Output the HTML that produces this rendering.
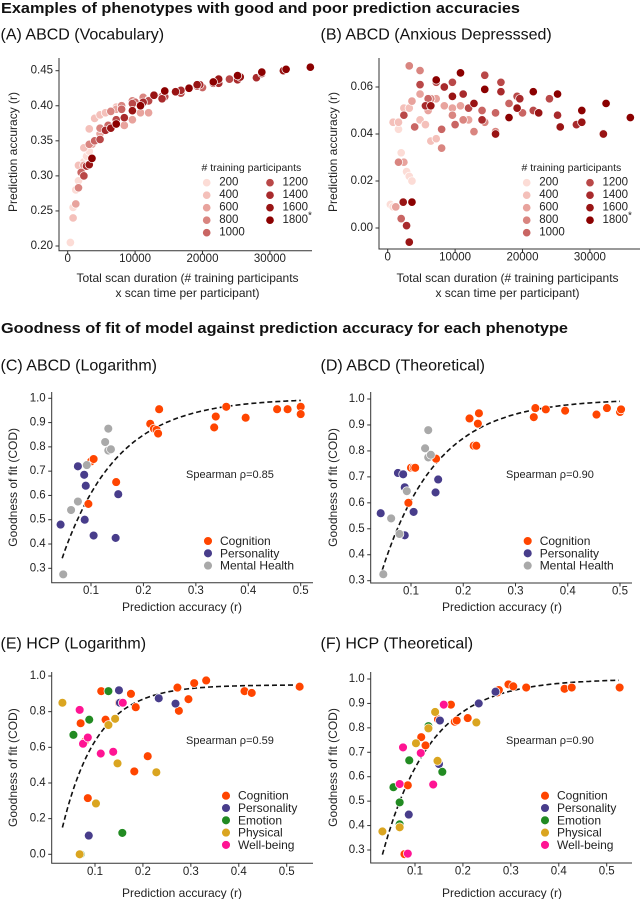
<!DOCTYPE html>
<html><head><meta charset="utf-8"><style>
html,body{margin:0;padding:0;background:#fff}
svg{display:block;font-family:"Liberation Sans",Arial,sans-serif}
</style></head><body>
<svg id="fig" width="641" height="899" viewBox="0 0 641 899" xmlns="http://www.w3.org/2000/svg"></svg>
<script>
// ---------- Panel A / B data: [total scan duration (thousands), accuracy] per training size ----------
const sizes = [200,400,600,800,1000,1200,1400,1600,1800];
const sizeColors = ['#fcdcd6','#f4c0ba','#e8a39d','#d98580','#c96563','#b94848','#a82a2c','#991414','#8b0000'];
const vocab200=[[0.4,.205],[0.8,.255],[1.2,.28],[1.6,.293],[2,.31],[2.4,.32],[2.8,.328],[3.2,.335]];
const vocab400=[[0.8,.24],[1.6,.315],[2.4,.34],[3.2,.367],[4,.382],[4.8,.387],[5.6,.39],[6.4,.392],[7.2,.398]];
const vocab600=[[1.2,.26],[2.4,.315],[3.6,.345],[4.8,.36],[6,.37],[7.2,.395],[8.4,.372],[9.6,.38],[10.8,.39],[12,.39]];
const vocab800=[[1.6,.283],[3.2,.345],[4.8,.368],[6.4,.392],[8,.40],[9.6,.407],[11.2,.412],[12.8,.415],[14.4,.412]];
const vocab1000=[[2,.305],[4,.35],[6,.372],[8,.395],[10,.405],[12,.408],[14,.413],[16,.42],[18,.425],[20,.426]];
const vocab1200=[[2.4,.30],[4.8,.352],[7.2,.38],[9.6,.403],[12,.407],[14.4,.413],[16.8,.418],[19.2,.428],[21.6,.432],[24,.438]];
const vocab1400=[[2.8,.314],[5.6,.365],[8.4,.383],[11.2,.405],[14,.41],[16.8,.422],[19.6,.43],[22.4,.432],[25.2,.437],[28,.44]];
const vocab1600=[[3.2,.316],[6.4,.368],[9.6,.393],[12.8,.415],[16,.42],[19.2,.43],[22.4,.438],[25.6,.441],[28.8,.446],[32,.45]];
const vocab1800=[[3.6,.325],[7.2,.374],[10.8,.40],[14.4,.421],[18,.425],[21.6,.434],[25.2,.443],[28.8,.448],[32.4,.452],[36,.455]];
const anx200=[[0.4,.010],[0.8,.009],[1.2,.045],[1.6,.042],[2,.032],[2.4,.028],[2.8,.024],[3.2,.022],[3.6,.020]];
const anx400=[[0.8,.045],[1.6,.045],[2.4,.051],[3.2,.051],[4,.043],[4.8,.046],[5.6,.044],[6.4,.037],[7.2,.038]];
const anx600=[[1.2,.009],[2.4,.028],[3.6,.054],[4.8,.057],[6,.05],[7.2,.055],[8.4,.052],[9.6,.051],[10.8,.052],[12,.046]];
const anx800=[[1.6,.028],[3.2,.069],[4.8,.067],[6.4,.055],[8,.034],[9.6,.048],[11.2,.046],[12.8,.041],[14.4,.045],[16,.041]];
const anx1000=[[2,.004],[4,.043],[6,.055],[8,.042],[10,.044],[12,.051],[14,.05],[16,.049],[18,.053],[20,.049]];
const anx1200=[[2.4,.048],[4.8,.061],[7.2,.062],[9.6,.062],[12,.051],[14.4,.065],[16.8,.062],[19.2,.056],[21.6,.05],[24,.055]];
const anx1400=[[2.8,.001],[5.6,.052],[8.4,.06],[11.2,.057],[14,.046],[16.8,.058],[19.6,.055],[22.4,.049],[25.2,.048],[28,.044]];
const anx1600=[[2.3,.011],[3.2,-.006],[6.4,.052],[9.6,.056],[12.8,.053],[16,.04],[19.2,.051],[22.4,.049],[25.6,.043],[28.8,.045],[32,.04]];
const anx1800=[[3.6,.011],[7.2,.063],[10.8,.066],[14.4,.059],[18,.047],[21.6,.058],[25.2,.057],[28.8,.05],[32.4,.053],[36,.047]];
const vocabSeries=[vocab200,vocab400,vocab600,vocab800,vocab1000,vocab1200,vocab1400,vocab1600,vocab1800];
const anxSeries=[anx200,anx400,anx600,anx800,anx1000,anx1200,anx1400,anx1600,anx1800];
const durTicks=[0,10000,20000,30000];
const vocabTicks=[0.20,0.25,0.30,0.35,0.40,0.45];
const anxTicks=[0.00,0.02,0.04,0.06];

// ---------- Panel C-F data: [prediction accuracy r, COD] ----------
const catNames3=['Cognition','Personality','Mental Health'];
const catNames5=['Cognition','Personality','Emotion','Physical','Well-being'];
const catColors={'Cognition':'#ff4500','Personality':'#483d8b','Mental Health':'#a9a9a9','Emotion':'#228b22','Physical':'#daa520','Well-being':'#ff1493'};
const cCog=[[.1,.74],[.105,.75],[.095,.565],[.148,.655],[.213,.895],[.22,.875],[.225,.87],[.228,.855],[.23,.955],[.335,.88],[.338,.925],[.358,.965],[.395,.92],[.455,.955],[.475,.955],[.5,.965],[.5,.935]];
const cPers=[[.042,.48],[.075,.72],[.087,.685],[.09,.64],[.088,.5],[.105,.435],[.147,.425],[.152,.605]];
const cMH=[[.047,.275],[.062,.54],[.075,.575],[.092,.725],[.127,.82],[.133,.875],[.133,.785],[.138,.79]];
const dCog=[[.095,.6],[.1,.735],[.105,.735],[.108,.735],[.148,.77],[.212,.925],[.22,.82],[.225,.82],[.228,.905],[.23,.945],[.335,.93],[.338,.965],[.358,.96],[.395,.955],[.455,.94],[.475,.965],[.5,.95],[.502,.96]];
const dPers=[[.042,.56],[.075,.715],[.085,.71],[.088,.66],[.088,.475],[.105,.565],[.147,.64],[.152,.69]];
const dMH=[[.047,.325],[.062,.54],[.078,.48],[.092,.645],[.127,.81],[.133,.88],[.133,.775],[.138,.785]];
const eCog=[[.07,.735],[.085,.315],[.078,.63],[.113,.915],[.122,.755],[.15,.85],[.175,.9],[.182,.465],[.185,.825],[.21,.55],[.272,.935],[.275,.805],[.295,.87],[.307,.96],[.332,.975],[.412,.915],[.427,.905],[.527,.94]];
const ePers=[[.087,.105],[.15,.92],[.152,.85],[.233,.875],[.268,.845]];
const eEmo=[[.055,.67],[.088,.755],[.128,.915],[.157,.12],[.07,.0]];
const ePhys=[[.032,.85],[.068,.0],[.102,.285],[.128,.725],[.142,.76],[.147,.51],[.228,.46]];
const eWell=[[.068,.81],[.075,.62],[.085,.655],[.112,.565],[.138,.575],[.158,.85]];
const fCog=[[.078,.283],[.085,.565],[.113,.762],[.122,.728],[.148,.835],[.175,.895],[.183,.825],[.187,.83],[.21,.84],[.272,.945],[.275,.955],[.295,.978],[.305,.97],[.332,.965],[.412,.96],[.427,.965],[.527,.965]];
const fPers=[[.087,.445],[.152,.83],[.15,.652],[.233,.9],[.268,.948]];
const fEmo=[[.055,.557],[.068,.495],[.068,.405],[.088,.667],[.128,.807],[.157,.62]];
const fPhys=[[.032,.376],[.068,.393],[.102,.737],[.128,.798],[.142,.865],[.147,.665],[.228,.822]];
const fWell=[[.068,.57],[.075,.72],[.085,.285],[.112,.697],[.138,.568],[.16,.895]];
const rTicks=[0.1,0.2,0.3,0.4,0.5];
const codTicks=[0.3,0.4,0.5,0.6,0.7,0.8,0.9,1.0];
const codTicksE=[0.0,0.2,0.4,0.6,0.8,1.0];
const spearman=['0.85','0.90','0.59','0.90'];

const NS='http://www.w3.org/2000/svg';
const svg=document.getElementById('fig');
function mk(tag,attrs,parent){const e=document.createElementNS(NS,tag);for(const k in attrs)e.setAttribute(k,attrs[k]);(parent||svg).appendChild(e);return e;}
function lin(v1,p1,v2,p2){return v=>p1+(v-v1)*(p2-p1)/(v2-v1);}
function txt(s,x,y,size,opt,parent){const t=mk('text',Object.assign({x:x,y:y,'font-size':size,fill:'#222','dominant-baseline':'central'},opt||{}),parent);t.textContent=s;return t;}

function axes(g,P,xt,yt,xfmt,yfmt){
  const ax=mk('path',{d:`M${P.left},${P.top}V${P.bottom}H${P.right}`,stroke:'#333',fill:'none','stroke-width':1},g);
  
  
  xt.forEach(v=>{const x=P.xs(v);
    const tk=mk('line',{x1:x,x2:x,y1:P.bottom,y2:P.bottom+3.5,stroke:'#333'},g);
    
    
    const l=txt(xfmt(v),x,P.bottom+8.5,11.5,{'text-anchor':'middle'},g);
    
    });
  yt.forEach(v=>{const y=P.ys(v);
    const tk=mk('line',{x1:P.left-3.5,x2:P.left,y1:y,y2:y,stroke:'#333'},g);
    
    
    const l=txt(yfmt(v),P.left-6,y,11.5,{'text-anchor':'end'},g);
    
    });
}
function dot(g,x,y,c,r){const d=mk('circle',{cx:x,cy:y,r:r||4.3,fill:c,stroke:'#fff','stroke-width':0.7},g);return d;}

// titles
let t=txt('Examples of phenotypes with good and poor prediction accuracies',1,9,14.5,{'font-weight':'bold',fill:'#111',textLength:519,lengthAdjust:'spacingAndGlyphs'});


t=txt('Goodness of fit of model against prediction accuracy for each phenotype',1,329,14.5,{'font-weight':'bold',fill:'#111',textLength:567,lengthAdjust:'spacingAndGlyphs'});



// ---------- scan duration panels ----------
function durPanel(name,ox,title,series,ys,yt,yfmt,bottom,right){
  const g=mk('g',{});
  
  
  const P={left:ox+59,top:58,bottom:bottom,right:right,xs:lin(0,ox+67.7,30000,ox+269.9),ys:ys};
  const tt=txt(title,ox+0.5,35,16,{fill:'#111'},g);
  
  
  axes(g,P,durTicks,yt,v=>String(v),yfmt);
  series.forEach((s,i)=>s.forEach(p=>{const d=dot(g,P.xs(p[0]*1000),P.ys(p[1]),sizeColors[i],4.2);
    
    }));
  let l=txt('Total scan duration (# training participants',ox+187.5,278,12,{'text-anchor':'middle'},g);
  
  
  l=txt('x scan time per participant)',ox+187.5,293,12,{'text-anchor':'middle'},g);
  
  
  l=txt('Prediction accuracy (r)',0,0,12,{'text-anchor':'middle',transform:`translate(${ox+13},152) rotate(-90)`},g);
  
  
  const lg=mk('g',{},g);
  
  
  l=txt('# training participants',ox+201.5,168,10.5,{},lg);
  
  
  sizes.forEach((s,i)=>{const col=i<5?0:1,row=i<5?i:i-5;
    const x=ox+(col?270:206.7),y=182.7+row*12.5;
    const d=dot(lg,x,y,sizeColors[i],4.2);
    
    
    const e=txt(String(s),x+12.5,y,11.5,{},lg);
    
    
    if(s===1800){const a=txt('*',x+38,y-4,10,{},lg);}
  });
}
durPanel('panel-a-vocabulary',0,'(A) ABCD (Vocabulary)',vocabSeries,lin(0.45,70.7,0.20,246),vocabTicks,v=>v.toFixed(2),250.7,312);
durPanel('panel-b-anxious-depressed',320,'(B) ABCD (Anxious Depresssed)',anxSeries,lin(0.06,87,0,228),anxTicks,v=>v.toFixed(2),249,640);

// ---------- goodness-of-fit panels ----------
function fitPanel(name,ox,oy,title,P,yt,cats,data,curve,rho,legX,legY,legStep,titleY,xlabY){
  const g=mk('g',{});
  
  
  const tt=txt(title,ox+0.5,titleY,16,{fill:'#111'},g);
  
  
  axes(g,P,rTicks,yt,v=>v.toFixed(1),v=>v.toFixed(1));
  let d='';for(let i=0;i<=80;i++){const r=curve.x0+(curve.x1-curve.x0)*i/80;const v=curve.f(r);d+=(i?'L':'M')+P.xs(r).toFixed(1)+','+P.ys(v).toFixed(1);}
  const c=mk('path',{d:d,fill:'none',stroke:'#111','stroke-width':1.6,'stroke-dasharray':'5,3'},g);
  
  
  cats.forEach((cat,i)=>data[i].forEach(p=>{const m=dot(g,P.xs(p[0]),P.ys(p[1]),catColors[cat],4.4);
    
    }));
  let l=txt('Spearman ρ='+rho,ox+186,P.spY,11,{},g);
  
  
  l=txt('Prediction accuracy (r)',ox+182,xlabY,12,{'text-anchor':'middle'},g);
  
  
  l=txt('Goodness of fit (COD)',0,0,12,{'text-anchor':'middle',transform:`translate(${ox+13},${(P.top+P.bottom)/2}) rotate(-90)`},g);
  
  
  const lg=mk('g',{},g);
  
  
  cats.forEach((cat,i)=>{const y=legY+i*legStep;
    const m=dot(lg,ox+legX,y,catColors[cat],4.4);
    
    
    const e=txt(cat,ox+legX+12,y,12,{},lg);
    
    });
}
const curveCD={x0:0.045,x1:0.5,f:r=>1-1.01*Math.exp(-9.5*r)};
fitPanel('panel-c-abcd-logarithm',0,330,'(C) ABCD (Logarithm)',
  {left:51.7,top:392,bottom:582.7,right:313,xs:lin(.1,91,.5,300.7),ys:lin(1,398.3,.3,568.3),spY:475},
  codTicks,catNames3,[cCog,cPers,cMH],curveCD,spearman[0],208,541,12.3,366,607);
fitPanel('panel-d-abcd-theoretical',320,330,'(D) ABCD (Theoretical)',
  {left:370.7,top:392,bottom:583,right:632,xs:lin(.1,411,.5,620),ys:lin(1,399,.3,580.7),spY:475},
  codTicks,catNames3,[dCog,dPers,dMH],curveCD,spearman[1],207.7,541,12.3,366,607);
fitPanel('panel-e-hcp-logarithm',0,610,'(E) HCP (Logarithm)',
  {left:51.7,top:672,bottom:863.3,right:313,xs:lin(.1,95,.5,286.7),ys:lin(1,676,0,854.3),spY:741},
  codTicksE,catNames5,[eCog,ePers,eEmo,ePhys,eWell],{x0:0.032,x1:0.525,f:r=>0.95-1.24*Math.exp(-13.7*r)},spearman[2],226,795.7,12.3,644,893);
fitPanel('panel-f-hcp-theoretical',320,610,'(F) HCP (Theoretical)',
  {left:370.7,top:672,bottom:863,right:632,xs:lin(.1,415,.5,606.7),ys:lin(1,679,.3,850),spY:741},
  codTicks,catNames5,[fCog,fPers,fEmo,fPhys,fWell],{x0:0.032,x1:0.525,f:r=>1-0.99*Math.exp(-10*r)},spearman[3],225,795.7,12.3,644,893);
</script>
</body></html>
